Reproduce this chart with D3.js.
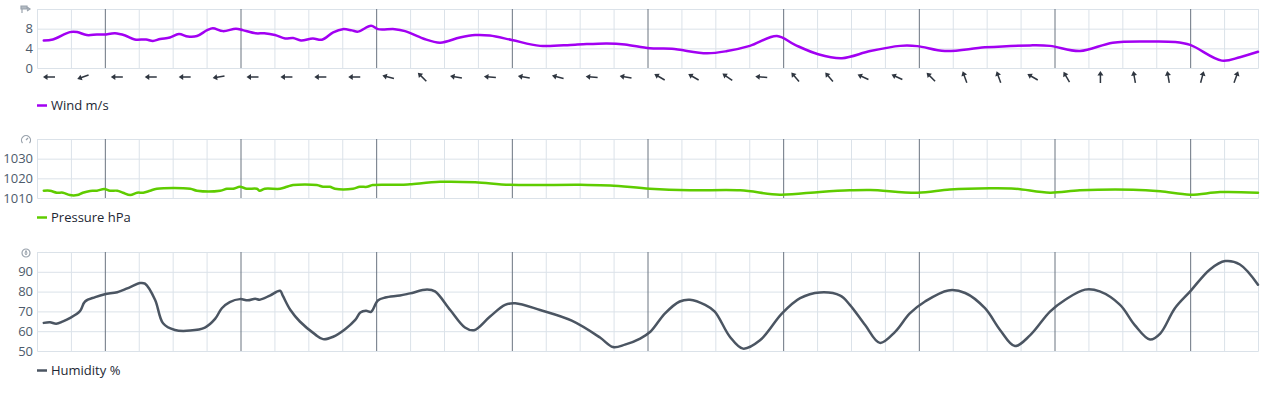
<!DOCTYPE html>
<html>
<head>
<meta charset="utf-8">
<script src="https://cdn.jsdelivr.net/npm/d3@7"></script>
<style>
  body { margin: 0; background: #fff; font-family: "Open Sans", "Noto Sans", sans-serif; }
  .tick text { fill: #4d5b6b; font-size: 13px; }
</style>
</head>
<body>
<div id="chart"></div>
<script>
// hours since start of the chart (6 h per grid column, 9 days)
const windHours = [1.2, 2.8, 5.8, 7.1, 8.8, 10.6, 11.9, 13.8, 15.6, 17.3, 19.3, 20.5, 21.8, 23.5, 25.1, 26.7, 28.3, 30.1, 31.1, 32.9, 35.2, 36.4, 38.7, 40.2, 42.1, 43.9, 45.3, 46.7, 48.8, 50.4, 52.4, 54.1, 55.7, 56.8, 59.1, 60.3, 63.3, 65.1, 68.3, 71.3, 74.8, 77.5, 80.1, 84.0, 89.0, 95.2, 100.8, 104.0, 108.4, 112.3, 118.5, 122.1, 126.1, 130.9, 134.1, 138.2, 142.4, 147.4, 152.7, 155.7, 160.6, 167.7, 175.7, 179.2, 184.5, 190.3, 196.9, 201.3, 204.0, 209.6, 212.8, 216];
const windSpeed = [5.6, 5.8, 7.3, 7.3, 6.7, 6.8, 6.8, 7.05, 6.6, 5.8, 5.8, 5.5, 5.9, 6.2, 6.9, 6.4, 6.5, 7.7, 8.1, 7.5, 8.0, 7.7, 7.05, 7.05, 6.7, 6.0, 6.1, 5.6, 6.0, 5.75, 7.25, 7.9, 7.65, 7.4, 8.6, 7.9, 7.9, 7.5, 6.0, 5.15, 6.2, 6.7, 6.6, 5.7, 4.5, 4.75, 5.0, 4.8, 4.0, 3.9, 3.0, 3.45, 4.5, 6.5, 4.7, 2.8, 2.0, 3.45, 4.5, 4.45, 3.45, 4.2, 4.6, 4.5, 3.45, 5.15, 5.4, 5.3, 4.7, 1.5, 2.2, 3.3];

// wind direction (degrees, where the wind comes from), one per 6 h column
const windDirection = [90, 70, 90, 90, 90, 80, 90, 90, 90, 90, 105, 135, 100, 95, 100, 105, 95, 100, 120, 120, 125, 95, 140, 140, 115, 115, 135, 160, 160, 120, 150, 180, 170, 170, 195, 200];

const pressureHours = [1.2, 2.3, 3.5, 4.6, 5.8, 7.1, 8.1, 9.4, 10.6, 11.9, 12.9, 14.2, 15.2, 16.5, 17.7, 18.8, 20.0, 21.2, 27.1, 28.3, 32.4, 33.6, 34.7, 35.9, 37.1, 38.9, 39.4, 40.3, 43.0, 44.2, 45.3, 49.5, 50.6, 51.8, 52.7, 55.9, 57.1, 58.4, 59.4, 64.2, 66.0, 71.3, 77.5, 83.7, 96.1, 101.4, 108.4, 115.5, 124.4, 131.4, 138.5, 143.8, 147.4, 155.8, 161.5, 168.6, 173.0, 179.2, 184.5, 193.9, 198.7, 204.0, 209.3, 216];
const pressure = [1013.7, 1013.7, 1012.7, 1012.7, 1011.5, 1011.5, 1012.7, 1013.6, 1013.7, 1014.6, 1013.7, 1013.7, 1012.7, 1011.5, 1012.7, 1012.7, 1013.7, 1014.7, 1014.7, 1013.7, 1013.7, 1014.7, 1014.7, 1015.7, 1014.7, 1014.7, 1013.7, 1014.7, 1014.7, 1015.7, 1016.6, 1016.6, 1015.7, 1015.7, 1014.7, 1014.7, 1015.7, 1015.7, 1016.6, 1016.7, 1017, 1018.2, 1018, 1016.7, 1016.7, 1016.4, 1014.7, 1013.9, 1013.9, 1011.7, 1013.1, 1013.9, 1014.1, 1012.7, 1014.3, 1014.9, 1014.7, 1012.7, 1013.9, 1014.2, 1013.4, 1011.7, 1013, 1012.7];

const humidityHours = [1.2, 2.3, 3.4, 4.6, 5.8, 7.6, 8.5, 10.3, 12.0, 14.2, 16.5, 18.2, 19.1, 20.9, 22.3, 24.4, 27.1, 29.7, 31.5, 32.7, 34.1, 35.9, 37.3, 38.6, 39.4, 41.2, 43.0, 43.5, 44.8, 46.5, 49.2, 50.6, 52.4, 54.5, 56.3, 57.2, 58.2, 59.1, 60.3, 61.6, 64.2, 66.0, 69.0, 70.4, 73.1, 75.7, 77.3, 80.1, 82.8, 84.6, 89.0, 94.6, 99.6, 101.9, 104.0, 106.7, 108.5, 111.1, 113.7, 115.5, 118.2, 119.9, 122.6, 124.9, 127.9, 131.8, 135.0, 138.5, 142.1, 143.8, 146.5, 149.1, 151.8, 154.4, 157.1, 161.2, 164.2, 167.7, 170.4, 173.0, 175.7, 179.2, 181.9, 185.4, 188.0, 191.6, 194.2, 196.9, 198.7, 201.3, 204.0, 207.5, 210.2, 212.8, 216];
const humidity = [64.2, 64.5, 63.8, 65, 66.6, 70.1, 75, 77.2, 78.7, 79.7, 82.3, 84.3, 84, 75.8, 64, 60.6, 60.3, 61.8, 66.2, 71.6, 74.7, 76.2, 75.6, 76.4, 75.9, 78, 80.4, 77.8, 70.8, 64.9, 58.4, 56, 57.2, 61, 65.7, 69.4, 70.3, 69.8, 75.5, 77, 78, 79.1, 81, 80.1, 70.7, 61.9, 60.5, 67.3, 73.3, 74.1, 70.7, 65.3, 56.8, 52, 53.2, 56.3, 59.7, 69, 75, 75.9, 73.3, 69.9, 57.1, 51.2, 55.4, 69, 76.7, 79.6, 78, 73.3, 63.1, 54.1, 59.7, 69, 75, 80.6, 79.3, 71.6, 60.5, 52.5, 58, 69.9, 75.9, 81, 80.1, 73.3, 63.1, 55.8, 58.8, 71.6, 80.1, 91.2, 95.4, 93.7, 83.5];

const windTicks = [0, 4, 8];
const pressureTicks = [1010, 1020, 1030];
const humidityTicks = [50, 60, 70, 80, 90];

const width = 1280, height = 393;
const svg = d3.select("#chart").append("svg")
  .attr("width", width)
  .attr("height", height);

const x = d3.scaleLinear().domain([0, 216]).range([37, 1258]);
const columns = d3.range(0, 217, 6);
const gridColor = "#dbe2e9";

const panels = [
  { name: "Wind m/s", hours: windHours, values: windSpeed, color: "#a200f2", width: 2.5,
    domain: [0, 12], top: 9, bottom: 68, ticks: windTicks, grid: [4, 8, 12], legendY: 105, icon: "wind" },
  { name: "Pressure hPa", hours: pressureHours, values: pressure, color: "#5fcc00", width: 2.5,
    domain: [1010, 1040], top: 139, bottom: 198, ticks: pressureTicks, grid: [1020, 1030, 1040], legendY: 217, icon: "gauge" },
  { name: "Humidity %", hours: humidityHours, values: humidity, color: "#4b5562", width: 2.5,
    domain: [50, 100], top: 252, bottom: 351, ticks: humidityTicks, grid: [60, 70, 80, 90, 100], legendY: 370, icon: "drop" }
];

panels.forEach(p => {
  const y = d3.scaleLinear().domain(p.domain).range([p.bottom, p.top]);
  const g = svg.append("g");

  // horizontal grid
  g.append("g")
    .attr("transform", `translate(${x.range()[0]},0)`)
    .call(d3.axisLeft(y).tickValues(p.grid).tickSize(-(x.range()[1] - x.range()[0])).tickFormat(""))
    .call(a => a.select(".domain").remove())
    .call(a => a.selectAll("line").attr("stroke", gridColor));

  // vertical grid, darker at day boundaries
  g.append("g")
    .attr("transform", `translate(0,${p.bottom})`)
    .call(d3.axisBottom(x).tickValues(columns).tickSize(-(p.bottom - p.top)).tickFormat(""))
    .call(a => a.select(".domain").attr("stroke", gridColor))
    .call(a => a.selectAll("line")
      .attr("stroke", d => (d - 12) % 24 === 0 ? "#6a7480" : gridColor));

  // y axis labels
  g.append("g")
    .attr("transform", `translate(33,0)`)
    .call(d3.axisLeft(y).tickValues(p.ticks).tickSize(0).tickPadding(0).tickFormat(d3.format("d")))
    .call(a => a.select(".domain").remove())
    .call(a => a.selectAll("text").attr("font-family", '"Open Sans", sans-serif'));

  // data line
  g.append("path")
    .datum(p.hours.map((h, i) => [h, p.values[i]]))
    .attr("fill", "none")
    .attr("stroke", p.color)
    .attr("stroke-width", p.width)
    .attr("stroke-linejoin", "round")
    .attr("stroke-linecap", "round")
    .attr("d", d3.line().x(d => x(d[0])).y(d => y(d[1])).curve(d3.curveCatmullRom.alpha(0.5)));

  // legend
  const lg = svg.append("g").attr("transform", `translate(37,${p.legendY})`);
  lg.append("line").attr("x1", 0).attr("x2", 10).attr("y1", 0.5).attr("y2", 0.5)
    .attr("stroke", p.color).attr("stroke-width", 2.5);
  lg.append("text").attr("x", 14).attr("y", 5)
    .attr("font-size", 13).attr("fill", "#1d2733")
    .text(p.name);

  // small panel icon
  const ic = svg.append("g").attr("transform", `translate(26,${p.top + 1})`)
    .attr("fill", "none").attr("stroke", "#9aa3ad").attr("stroke-width", 1.2);
  if (p.icon === "wind") {
    ic.append("path").attr("d", "M-5,-4 L1,-4 L1,-1 L-5,-1 Z M-4,-1 L-4,3 M1,-3 L4,-1 L1,1")
      .attr("fill", "#b3bac2");
  } else if (p.icon === "gauge") {
    ic.append("path").attr("d", "M-3.5,3 A4.5,4.5 0 1 1 3.5,3");
    ic.append("line").attr("x1", 0).attr("y1", 0).attr("x2", 2).attr("y2", -2);
  } else {
    ic.append("circle").attr("r", 4);
    ic.append("path").attr("d", "M0,-2.5 Q2,0.5 0,2 Q-2,0.5 0,-2.5").attr("stroke-width", 1);
  }

  // wind direction arrows below the wind panel
  if (p.icon === "wind") {
    svg.append("g").selectAll("g")
      .data(windDirection)
      .join("g")
      .attr("transform", (d, i) => `translate(${x(i * 6) + 12},77) rotate(${d + 180})`)
      .each(function () {
        const a = d3.select(this);
        a.append("line").attr("x1", 0).attr("y1", 6).attr("x2", 0).attr("y2", -3)
          .attr("stroke", "#2f3640").attr("stroke-width", 1.5);
        a.append("path").attr("d", "M-3,-1.5 L0,-6 L3,-1.5 Z").attr("fill", "#2f3640");
      });
  }
});
</script>
</body>
</html>
